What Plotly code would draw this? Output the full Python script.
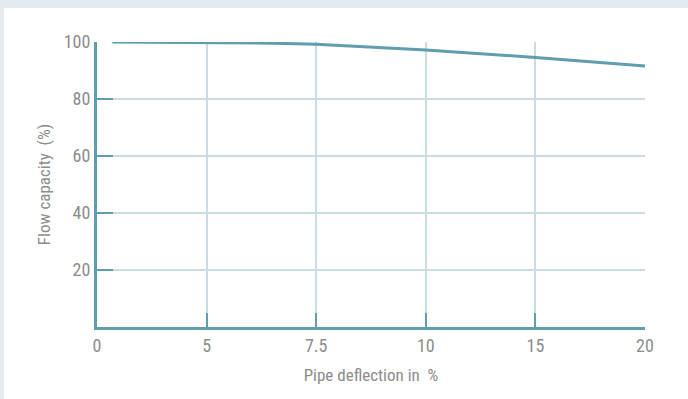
import numpy as np
import plotly.graph_objects as go

# Tick labels of the (evenly spaced) x axis
x_tick_labels = ["0", "5", "7.5", "10", "15", "20"]
x_tick_values = [0, 5, 7.5, 10, 15, 20]

# Curve
deflection = [0.7, 5, 6.5, 7.5, 10, 15, 20]
flow_capacity = [100, 99.8, 99.6, 99.2, 97.2, 94.6, 91.6]

y_tick_values = [20, 40, 60, 80, 100]

# the x axis places tick values at equal spacing: map through that scale
x_pos = np.interp(deflection, x_tick_values, list(range(len(x_tick_values))))

teal = "#5e9eaf"
grid = "#cadbe2"
label_col = "#8c8c8c"
font_family = "Roboto Condensed, Liberation Sans Narrow, Roboto, sans-serif"

fig = go.Figure()
fig.add_trace(go.Scatter(
    x=x_pos, y=flow_capacity, mode="lines",
    line=dict(color=teal, width=3), hoverinfo="skip", showlegend=False,
))

fig.update_layout(
    width=688, height=399,
    margin=dict(l=97, r=43, t=42, b=72),
    paper_bgcolor="white", plot_bgcolor="white",
    font=dict(family=font_family, color=label_col, size=17),
    xaxis=dict(
        range=[0, 5], tickmode="array",
        tickvals=list(range(len(x_tick_labels))), ticktext=x_tick_labels,
        showgrid=True, gridcolor=grid, gridwidth=1.5,
        showline=True, linecolor=teal, linewidth=3,
        ticks="inside", ticklen=14, tickwidth=2, tickcolor=teal,
        zeroline=False,
        title=dict(text="Pipe deflection in  %", standoff=15,
                   font=dict(size=17, color=label_col)),
        tickfont=dict(size=18, color=label_col),
    ),
    yaxis=dict(
        range=[0, 100], tickmode="array", tickvals=y_tick_values,
        showgrid=True, gridcolor=grid, gridwidth=1.5,
        showline=True, linecolor=teal, linewidth=3,
        ticks="inside", ticklen=16, tickwidth=2, tickcolor=teal,
        zeroline=False,
        title=dict(text="Flow capacity  (%)", standoff=9,
                   font=dict(size=17, color=label_col)),
        tickfont=dict(size=18, color=label_col),
    ),
    shapes=[
        dict(type="rect", xref="paper", yref="paper",
             x0=-0.2, x1=1.1, y0=1 + 34 / 285, y1=1.2,
             fillcolor="#e3eaf0", line=dict(width=0), layer="below"),
        dict(type="rect", xref="paper", yref="paper",
             x0=-0.2, x1=-93 / 548, y0=-0.3, y1=1.2,
             fillcolor="#e3eaf0", line=dict(width=0), layer="below"),
    ],
)

fig.write_html(
    "out.html",
    config={"displayModeBar": False},
    post_script="document.body.style.margin='0';document.body.style.overflow='hidden';",
)
